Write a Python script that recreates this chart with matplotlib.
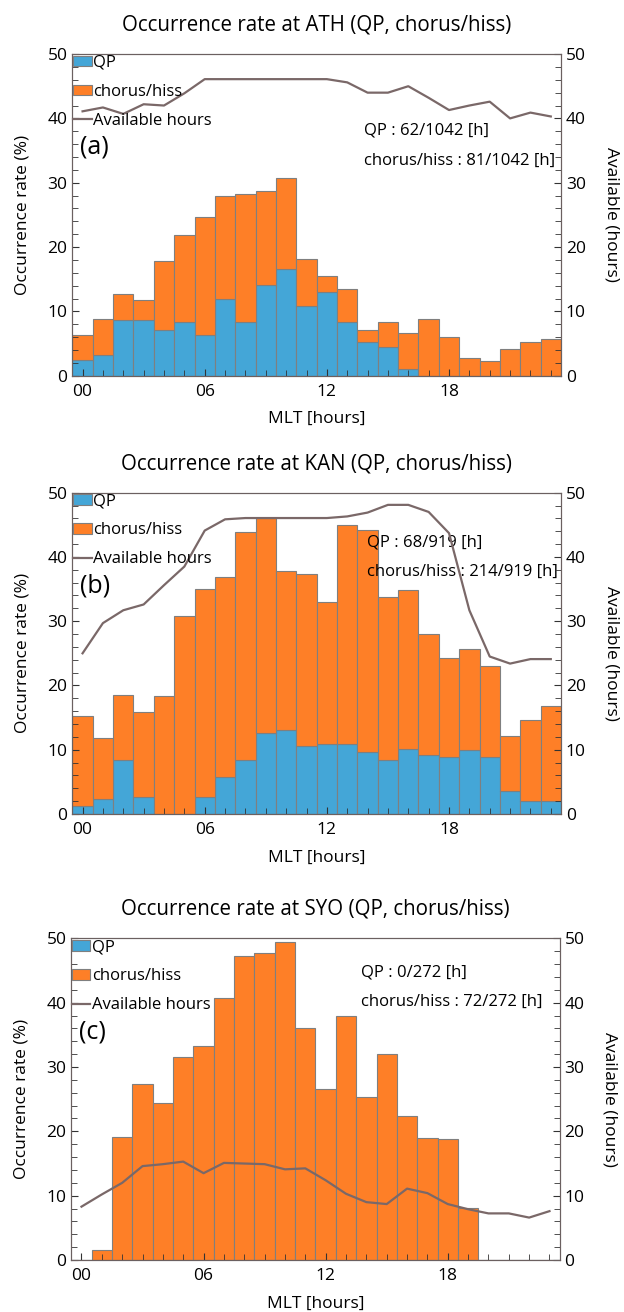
import numpy as np
import matplotlib.pyplot as plt
from matplotlib.ticker import MultipleLocator

plt.rcParams['font.family'] = ['Open Sans', 'DejaVu Sans']

mlt = np.arange(24)
tick_pos = [0, 6, 12, 18]
tick_labels = ['00', '06', '12', '18']

# ATH
ath_qp = [2.4, 3.2, 8.6, 8.65, 7.1, 8.3, 6.4, 11.9, 8.3, 14.1, 16.6, 10.8,
          13.0, 8.3, 5.2, 4.5, 1.0, 0, 0, 0, 0, 0, 0, 0]
ath_total = [6.4, 8.8, 12.75, 11.8, 17.9, 21.8, 24.7, 27.9, 28.2, 28.65, 30.8, 18.1,
             15.5, 13.5, 7.15, 8.3, 6.6, 8.8, 6.0, 2.75, 2.3, 4.15, 5.3, 5.75]
ath_hours = [41.1, 41.7, 40.7, 42.2, 42.0, 43.9, 46.1, 46.1, 46.1, 46.1, 46.1, 46.1,
             46.1, 45.6, 44.0, 44.0, 45.0, 43.2, 41.3, 42.0, 42.6, 40.0, 40.9, 40.3]

# KAN
kan_qp = [1.3, 2.3, 8.4, 2.6, 0, 0, 2.6, 5.8, 8.35, 12.65, 13.1, 10.5,
          10.9, 10.85, 9.65, 8.35, 10.1, 9.2, 8.9, 9.9, 8.9, 3.5, 2.0, 2.0]
kan_total = [15.3, 11.8, 18.45, 15.9, 18.35, 30.8, 34.95, 36.8, 43.9, 46.0, 37.8, 37.4,
             33.0, 44.9, 44.2, 33.8, 34.8, 28.0, 24.3, 25.7, 23.1, 12.2, 14.7, 16.8]
kan_hours = [25.0, 29.7, 31.7, 32.6, 35.6, 38.5, 44.1, 45.85, 46.05, 46.05, 46.05, 46.05,
             46.05, 46.3, 46.9, 48.1, 48.1, 47.0, 43.7, 31.7, 24.5, 23.4, 24.1, 24.1]

# SYO
syo_qp = [0] * 24
syo_total = [0, 1.55, 19.2, 27.3, 24.4, 31.6, 33.3, 40.7, 47.3, 47.7, 49.4, 36.0,
             26.6, 38.0, 25.4, 32.0, 22.4, 19.0, 18.8, 8.1, 0, 0, 0, 0]
syo_hours = [8.3, 10.2, 12.0, 14.6, 14.9, 15.3, 13.5, 15.1, 15.0, 14.9, 14.1, 14.25,
             12.4, 10.3, 9.0, 8.7, 11.1, 10.4, 8.7, 7.9, 7.25, 7.25, 6.6, 7.6]

panels = [
    ('ATH', '(a)', ath_qp, ath_total, ath_hours, 'QP : 62/1042 [h]', 'chorus/hiss : 81/1042 [h]',
     [0.116, 0.7136, 0.783, 0.2452], (0.596, 0.762, 0.668)),
    ('KAN', '(b)', kan_qp, kan_total, kan_hours, 'QP : 68/919 [h]', 'chorus/hiss : 214/919 [h]',
     [0.116, 0.3796, 0.783, 0.2449], (0.604, 0.844, 0.752)),
    ('SYO', '(c)', syo_qp, syo_total, syo_hours, 'QP : 0/272 [h]', 'chorus/hiss : 72/272 [h]',
     [0.1143, 0.0396, 0.7826, 0.2452], (0.594, 0.895, 0.803)),
]

blue = '#44a6d7'
orange = '#fe7f27'
edge = '#7f7f7f'
line_col = '#7a6868'
spine_col = '#6b6060'

fig = plt.figure(figsize=(6.24, 13.12), dpi=100)

for name, tag, qp, total, hours, txt1, txt2, rect, tpos in panels:
    qp = np.array(qp, dtype=float)
    chorus = np.array(total, dtype=float) - qp

    ax = fig.add_axes(rect)
    b1 = ax.bar(mlt, qp, width=1.0, color=blue, edgecolor=edge, linewidth=0.8, label='QP')
    b2 = ax.bar(mlt, chorus, width=1.0, bottom=qp, color=orange, edgecolor=edge,
                linewidth=0.8, label='chorus/hiss')
    ax.set_xlim(-0.5, 23.5)
    ax.set_ylim(0, 50)
    ax.set_xticks(tick_pos)
    ax.set_xticklabels(tick_labels)
    ax.xaxis.set_minor_locator(MultipleLocator(1))
    ax.yaxis.set_major_locator(MultipleLocator(10))
    ax.yaxis.set_minor_locator(MultipleLocator(2))
    ax.tick_params(which='both', direction='in', labelsize=12.5, color='#333333')
    ax.tick_params(which='major', length=5)
    ax.tick_params(which='minor', length=4)
    ax.tick_params(axis='x', pad=6)
    ax.set_xlabel('MLT [hours]', fontsize=12.5, labelpad=8)
    ax.set_ylabel('Occurrence rate (%)', fontsize=12.5, labelpad=12)
    ax.set_title('Occurrence rate at %s (QP, chorus/hiss)' % name, fontsize=14.8, pad=17)
    for sp in ax.spines.values():
        sp.set_color(spine_col)

    ax2 = ax.twinx()
    ln, = ax2.plot(mlt, hours, color=line_col, linewidth=1.6, label='Available hours')
    ax2.set_ylim(0, 50)
    ax2.yaxis.set_major_locator(MultipleLocator(10))
    ax2.yaxis.set_minor_locator(MultipleLocator(2))
    ax2.tick_params(which='both', direction='in', labelsize=12.5, color='#333333')
    ax2.tick_params(which='major', length=5)
    ax2.tick_params(which='minor', length=4)
    ax2.set_ylabel('Available (hours)', fontsize=12.5, rotation=270, labelpad=24)
    for sp in ax2.spines.values():
        sp.set_color(spine_col)

    ax2.text(tpos[0], tpos[1], txt1, transform=ax.transAxes, fontsize=12, va='center', zorder=1)
    ax2.text(tpos[0], tpos[2], txt2, transform=ax.transAxes, fontsize=12, va='center', zorder=1)
    ax2.text(0.016, 0.71, tag, transform=ax.transAxes, fontsize=18, va='center')

    leg = ax2.legend([b1, b2, ln], ['QP', 'chorus/hiss', 'Available hours'],
                     loc='upper left', bbox_to_anchor=(0.0, 1.0), frameon=False,
                     fontsize=12, borderaxespad=0.0, borderpad=0.05, handlelength=1.1,
                     handleheight=0.6, handletextpad=0.1, labelspacing=0.78)
    ln.set_zorder(3)

fig.savefig('out.png', dpi=100)
